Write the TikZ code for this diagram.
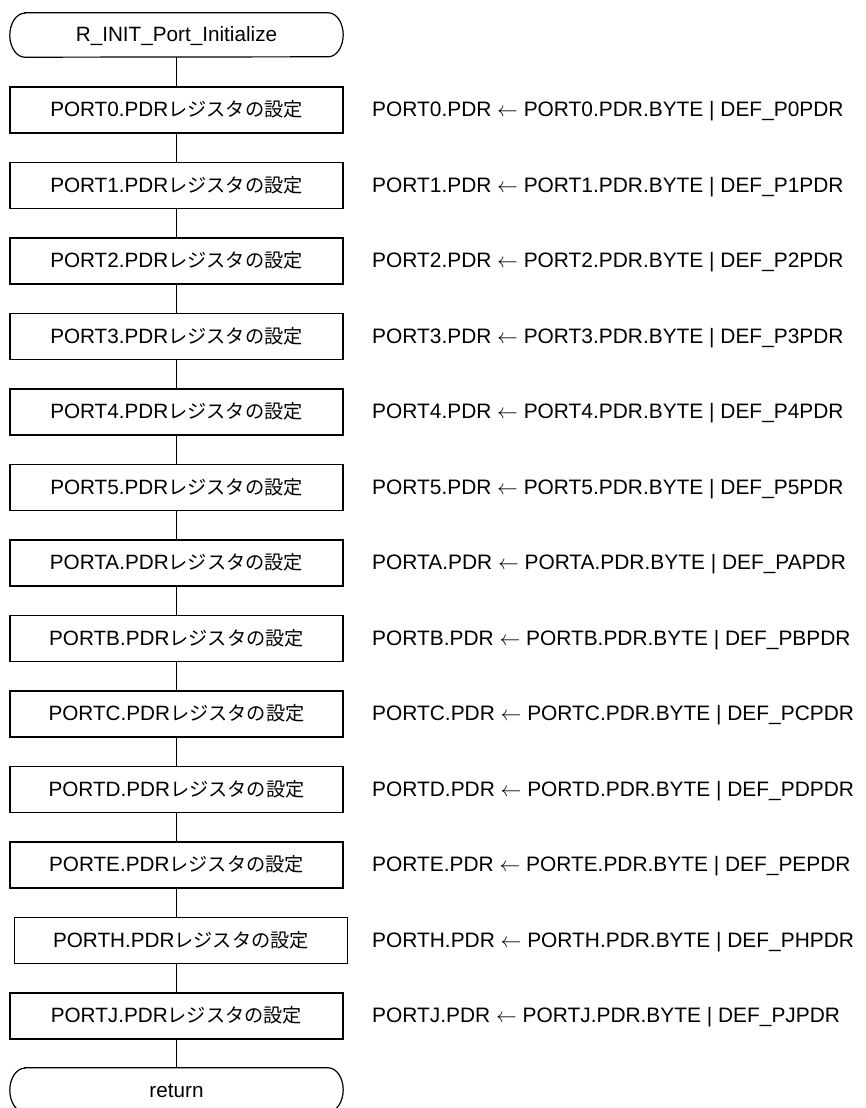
\documentclass[tikz,border=0pt]{standalone}
\usepackage{fontspec}
\setmainfont{Liberation Sans}
\newfontfamily\cjk{Noto Sans CJK JP}
\newcommand{\jp}[1]{{\cjk\fontsize{19.2}{20}\selectfont #1}}
\begin{document}
\begin{tikzpicture}[x=1pt,y=-1pt,
  proc/.style={draw, line width=1.2pt, minimum width=333pt, minimum height=46pt, inner sep=0pt,
    text height=15pt, text depth=1.6pt, font=\fontsize{20.7}{22}\selectfont},
  term/.style={minimum width=333pt, minimum height=44pt, inner sep=0pt,
    text height=15pt, text depth=1pt, font=\fontsize{20.7}{22}\selectfont},
  note/.style={anchor=base west, inner sep=0pt, font=\fontsize{20.9}{22}\selectfont},
  link/.style={line width=1.2pt}]
\useasboundingbox (0,0) rectangle (865,1108);
\newcommand{\termshape}[1]{%
  \draw[line width=1.2pt] ([xshift=15pt]#1.north west) -- ([xshift=-15pt]#1.north east)
    arc[start angle=90, end angle=-90, x radius=15pt, y radius=22pt]
    -- ([xshift=15pt]#1.south west)
    arc[start angle=270, end angle=90, x radius=15pt, y radius=22pt] -- cycle;}
\node[term] (start) at (176.5,35) {R\_INIT\_Port\_Initialize};
\termshape{start}
\foreach \n/\i/\dx in {0/0/0,1/1/0,2/2/0,3/3/0,4/4/0,5/5/0,A/6/0,B/7/0,C/8/0,D/9/0,E/10/0,H/11/4.5,J/12/0} {
  \node[proc] (p\n) at (176.5+\dx,110+75.5*\i) {PORT\n.PDR\jp{レジスタの設定}};
  \node[note] (t\n) at (372,116.7+75.5*\i) {PORT\n.PDR $\leftarrow$ PORT\n.PDR.BYTE | DEF\_P\n PDR};
}
\node[term] (ret) at (176.5,1090) {return};
\termshape{ret}
\draw[link] (start.south) -- (p0.north);
\foreach \a/\b in {0/1,1/2,2/3,3/4,4/5,5/A,A/B,B/C,C/D,D/E,E/H,H/J} {
  \draw[link] (p\a.south -| start.south) -- (p\b.north -| start.south);
}
\draw[link] (pJ.south) -- (ret.north);
\end{tikzpicture}
\end{document}
